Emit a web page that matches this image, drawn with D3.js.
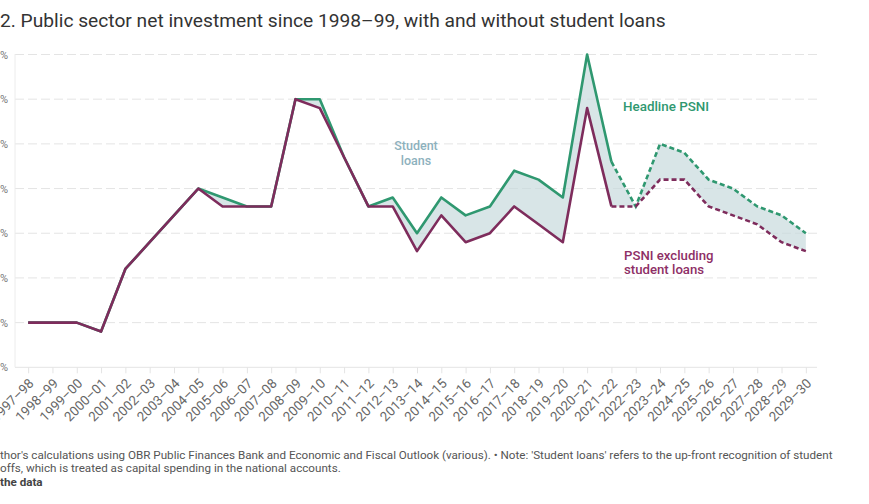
<!DOCTYPE html>
<html>
  <head>
    <meta charset="utf-8">
    <style>
      html, body {
        margin: 0px;
        padding: 0px;
        background: #fff;
      }
      svg {
        display: block;
        font-family: Roboto, "Noto Sans", sans-serif;
      }
    </style>
  </head>
  <body>
    <svg id="chart" width="869" height="504"></svg>
    <script src="https://cdnjs.cloudflare.com/ajax/libs/d3/7.8.5/d3.min.js"></script>
    <script>
      var years = ['1997–98', '1998–99', '1999–00', '2000–01', '2001–02', '2002–03', '2003–04',
        '2004–05', '2005–06', '2006–07', '2007–08', '2008–09', '2009–10', '2010–11', '2011–12',
        '2012–13', '2013–14', '2014–15', '2015–16', '2016–17', '2017–18', '2018–19', '2019–20',
        '2020–21', '2021–22', '2022–23', '2023–24', '2024–25', '2025–26', '2026–27', '2027–28',
        '2028–29', '2029–30'];
      // % of GDP
      var headline = [0.5, 0.5, 0.5, 0.4, 1.1, 1.4, 1.7, 2.0, 1.9, 1.8, 1.8, 3.0, 3.0, 2.35, 1.8,
        1.9, 1.5, 1.9, 1.7, 1.8, 2.2, 2.1, 1.9, 3.5, 2.3, 1.8, 2.5, 2.4, 2.1, 2.0, 1.8, 1.7, 1.5];
      var exStudent = [0.5, 0.5, 0.5, 0.4, 1.1, 1.4, 1.7, 2.0, 1.8, 1.8, 1.8, 3.0, 2.9, 2.35, 1.8,
        1.8, 1.3, 1.7, 1.4, 1.5, 1.8, 1.6, 1.4, 2.9, 1.8, 1.8, 2.1, 2.1, 1.8, 1.7, 1.6, 1.4, 1.3];
      var yTicks = [0, 0.5, 1, 1.5, 2, 2.5, 3, 3.5];
      var firstForecast = '2021–22';

      var green = '#2f9870', purple = '#7e2c5c';
      var svg = d3.select('#chart');

      svg.append('text')
        .attr('x', 0).attr('y', 27)
        .attr('font-size', 19.2).attr('fill', '#333')
        .text('2. Public sector net investment since 1998–99, with and without student loans');

      var x = d3.scalePoint().domain(years).range([16, 818]).padding(0.5);
      var y = d3.scaleLinear().domain([0, 3.5]).range([367.3, 54.5]);

      // gridlines
      svg.append('g').selectAll('line')
        .data(yTicks)
        .join('line')
        .attr('x1', 15).attr('x2', 817)
        .attr('y1', function(d) { return y(d); })
        .attr('y2', function(d) { return y(d); })
        .attr('stroke', '#e4e4e4')
        .attr('stroke-width', 1)
        .attr('stroke-dasharray', function(d) { return d === 0 ? null : '9,4'; });

      svg.append('line')
        .attr('x1', 15).attr('x2', 15).attr('y1', 54).attr('y2', 367.3)
        .attr('stroke', '#ececec');

      // y labels, cut off by the left edge like in the picture
      svg.append('g').selectAll('text')
        .data(yTicks)
        .join('text')
        .attr('x', 8).attr('y', function(d) { return y(d) + 4; })
        .attr('text-anchor', 'end')
        .attr('font-size', 11).attr('fill', '#777')
        .text(function(d) { return d.toFixed(1) + '%'; });

      // x axis
      var xAxis = svg.append('g')
        .attr('transform', 'translate(0,367.3)')
        .call(d3.axisBottom(x).tickSize(6).tickSizeOuter(0));
      xAxis.select('.domain').remove();
      xAxis.selectAll('.tick line').attr('stroke', '#e4e4e4');
      xAxis.selectAll('.tick text')
        .attr('font-family', 'Roboto, sans-serif')
        .attr('font-size', 13.3).attr('fill', '#666')
        .attr('text-anchor', 'end')
        .attr('dy', 0).attr('y', 0)
        .attr('transform', 'translate(6,17) rotate(-45)');

      var rows = years.map(function(d, i) {
        return { year: d, hi: headline[i], lo: exStudent[i] };
      });
      var cut = years.indexOf(firstForecast);

      svg.append('path')
        .datum(rows)
        .attr('fill', '#c7dadd').attr('fill-opacity', 0.7)
        .attr('d', d3.area()
          .x(function(d) { return x(d.year); })
          .y0(function(d) { return y(d.lo); })
          .y1(function(d) { return y(d.hi); }));

      function drawSeries(key, color) {
        var line = d3.line()
          .x(function(d) { return x(d.year); })
          .y(function(d) { return y(d[key]); });
        svg.append('path')
          .datum(rows.slice(0, cut + 1))
          .attr('fill', 'none').attr('stroke', color)
          .attr('stroke-width', 2.6).attr('stroke-linejoin', 'round')
          .attr('d', line);
        svg.append('path')
          .datum(rows.slice(cut))
          .attr('fill', 'none').attr('stroke', color)
          .attr('stroke-width', 2.6).attr('stroke-dasharray', '5,3')
          .attr('d', line);
      }
      drawSeries('hi', green);
      drawSeries('lo', purple);

      // labels
      svg.append('text')
        .attr('x', 623).attr('y', 111)
        .attr('font-size', 13.4).attr('font-weight', 500).attr('fill', green)
        .text('Headline PSNI');
      var sl = svg.append('text')
        .attr('font-size', 12.5).attr('font-weight', 500).attr('fill', '#8db1bd')
        .attr('text-anchor', 'middle');
      sl.append('tspan').attr('x', 416).attr('y', 150).text('Student');
      sl.append('tspan').attr('x', 416).attr('y', 165).text('loans');
      var px = svg.append('text')
        .attr('font-size', 13.2).attr('font-weight', 500).attr('fill', '#8e2f66');
      px.append('tspan').attr('x', 624).attr('y', 260).text('PSNI excluding');
      px.append('tspan').attr('x', 624).attr('y', 274).text('student loans');

      // footer
      var foot = svg.append('g').attr('font-size', 11.65).attr('fill', '#555');
      foot.append('text').attr('x', 0).attr('y', 459)
        .text("thor's calculations using OBR Public Finances Bank and Economic and Fiscal Outlook (various). • Note: 'Student loans' refers to the up-front recognition of student");
      foot.append('text').attr('x', 0).attr('y', 472)
        .text('offs, which is treated as capital spending in the national accounts.');
      foot.append('text').attr('x', 0).attr('y', 486)
        .attr('font-weight', 700).attr('fill', '#444')
        .text('the data');
    </script>
  </body>
</html>
